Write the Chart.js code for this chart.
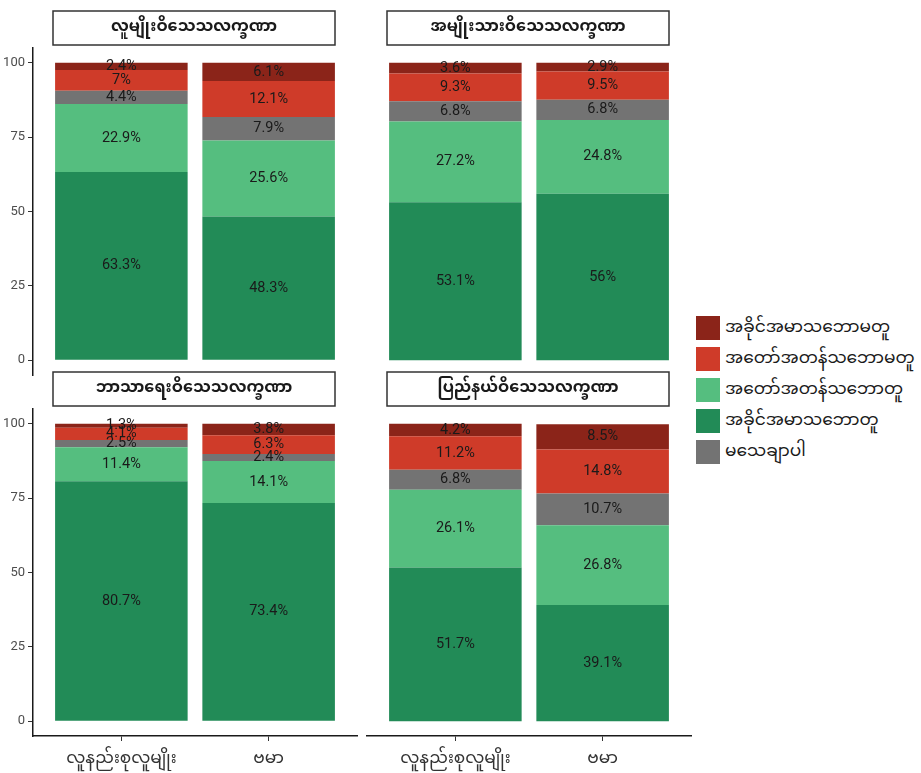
<!DOCTYPE html>
<html>
<head>
<meta charset="utf-8">
<script src="https://cdn.jsdelivr.net/npm/chart.js@4.4.1/dist/chart.umd.min.js"></script>
<style>
  body { margin: 0; background: #fff; }
  #wrap { position: relative; width: 921px; height: 773px; overflow: hidden; }
  canvas { position: absolute; }
  #legend { position: absolute; left: 696px; top: 312px; font-family: 'Noto Sans Myanmar', Padauk, 'Myanmar Text', 'Noto Sans', sans-serif; font-size: 17px; color: #1a1a1a; }
  .row { display: flex; align-items: center; height: 31px; }
  .sw { width: 24px; height: 24px; margin-right: 5px; flex: none; }
</style>
</head>
<body>
<div id="wrap">
  <canvas id="p0" width="360" height="395" style="left:0;top:0"></canvas>
  <canvas id="p1" width="335" height="395" style="left:360px;top:0"></canvas>
  <canvas id="p2" width="360" height="408" style="left:0;top:365px"></canvas>
  <canvas id="p3" width="335" height="408" style="left:360px;top:365px"></canvas>
  <div id="legend"></div>
</div>
<script>
// categories and facets
const categories = ['လူနည်းစုလူမျိုး', 'ဗမာ'];
const panelTitles = ['လူမျိုးဝိသေသလက္ခဏာ', 'အမျိုးသားဝိသေသလက္ခဏာ', 'ဘာသာရေးဝိသေသလက္ခဏာ', 'ပြည်နယ်ဝိသေသလက္ခဏာ'];

// stack order, bottom to top
const seriesNames = ['အခိုင်အမာသဘောတူ', 'အတော်အတန်သဘောတူ', 'မသေချာပါ', 'အတော်အတန်သဘောမတူ', 'အခိုင်အမာသဘောမတူ'];
const seriesColors = ['#228b57', '#55be7f', '#737373', '#cf3b29', '#8b2419'];
const legendOrder = [4, 3, 1, 0, 2];

// one row per series: [လူနည်းစုလူမျိုး, ဗမာ]
const ethnicValues = [[63.3, 48.3], [22.9, 25.6], [4.4, 7.9], [7, 12.1], [2.4, 6.1]];
const nationalValues = [[53.1, 56], [27.2, 24.8], [6.8, 6.8], [9.3, 9.5], [3.6, 2.9]];
const religionValues = [[80.7, 73.4], [11.4, 14.1], [2.5, 2.4], [4.1, 6.3], [1.3, 3.8]];
const stateValues = [[51.7, 39.1], [26.1, 26.8], [6.8, 10.7], [11.2, 14.8], [4.2, 8.5]];
const panelValues = [ethnicValues, nationalValues, religionValues, stateValues];

const yTicks = [0, 25, 50, 75, 100];

const MM_FONT = "'Noto Sans Myanmar', Padauk, 'Myanmar Text', 'Noto Sans', sans-serif";

// value labels in the middle of each segment
const labelPlugin = {
  id: 'segLabels',
  afterDatasetsDraw(chart) {
    const ctx = chart.ctx;
    ctx.save();
    ctx.font = '14.5px Roboto, sans-serif';
    ctx.fillStyle = '#1a1a1a';
    ctx.textAlign = 'center';
    ctx.textBaseline = 'middle';
    chart.data.datasets.forEach((ds, di) => {
      chart.getDatasetMeta(di).data.forEach((bar, i) => {
        const p = bar.getProps(['x', 'y', 'base'], true);
        ctx.fillText(ds.data[i].y + '%', p.x, (p.y + p.base) / 2);
      });
    });
    ctx.restore();
  },
};

// facet strip box above the panel
function stripPlugin(title) {
  return {
    id: 'strip',
    afterDraw(chart) {
      const a = chart.chartArea;
      const ctx = chart.ctx;
      const x = a.left + 20, w = a.right - 22 - x;
      const y = a.top - 37, h = 34;
      ctx.save();
      ctx.fillStyle = '#fff';
      ctx.fillRect(x, y, w, h);
      ctx.strokeStyle = '#333';
      ctx.lineWidth = 1.5;
      ctx.strokeRect(x, y, w, h);
      ctx.fillStyle = '#1a1a1a';
      ctx.font = 'bold 16px ' + MM_FONT;
      ctx.textAlign = 'center';
      ctx.textBaseline = 'middle';
      ctx.fillText(title, x + w / 2, y + h / 2 + 1);
      ctx.restore();
    },
  };
}

function renderPanel(idx) {
  const left = idx % 2 === 0;
  const bottom = idx >= 2;
  const values = panelValues[idx];

  new Chart(document.getElementById('p' + idx), {
    type: 'bar',
    data: {
      datasets: values.map((row, s) => ({
        label: seriesNames[s],
        data: row.map((v, i) => ({ x: i + 1, y: v })),
        backgroundColor: seriesColors[s],
        borderWidth: 0,
        categoryPercentage: 1,
        barPercentage: 0.9,
      })),
    },
    options: {
      responsive: false,
      animation: false,
      devicePixelRatio: 1,
      layout: {
        padding: { top: bottom ? 44 : 48, left: left ? 0 : 7, right: left ? 3 : 4, bottom: bottom ? 0 : 20 },
      },
      plugins: { legend: { display: false }, tooltip: { enabled: false } },
      scales: {
        x: {
          type: 'linear',
          stacked: true,
          offset: false,
          min: 0.4,
          max: 2.6,
          display: bottom,
          afterBuildTicks: s => { s.ticks = categories.map((c, i) => ({ value: i + 1 })); },
          afterFit: s => { if (bottom) s.height = 37; },
          grid: { display: true, offset: false, drawOnChartArea: false, drawTicks: true, tickLength: 5, color: '#333' },
          border: { display: true, color: '#1a1a1a', width: 1.5 },
          ticks: {
            autoSkip: false,
            maxRotation: 0,
            padding: 10,
            color: '#333',
            font: { family: MM_FONT, size: 17 },
            callback: v => categories[v - 1],
          },
        },
        y: {
          stacked: true,
          min: -5,
          max: 105,
          display: left,
          afterBuildTicks: s => { s.ticks = yTicks.map(v => ({ value: v })); },
          afterFit: s => { if (left) s.width = 33; },
          grid: { display: true, drawOnChartArea: false, drawTicks: true, tickLength: 5, color: '#333' },
          border: { display: true, color: '#1a1a1a', width: 1.5 },
          ticks: { padding: 3, color: '#4d4d4d', font: { family: 'Roboto, sans-serif', size: 13 } },
        },
      },
    },
    plugins: [labelPlugin, stripPlugin(panelTitles[idx])],
  });
}

function renderLegend() {
  const box = document.getElementById('legend');
  legendOrder.forEach(s => {
    const row = document.createElement('div');
    row.className = 'row';
    const sw = document.createElement('span');
    sw.className = 'sw';
    sw.style.background = seriesColors[s];
    const txt = document.createElement('span');
    txt.textContent = seriesNames[s];
    row.appendChild(sw);
    row.appendChild(txt);
    box.appendChild(row);
  });
}

[0, 1, 2, 3].forEach(renderPanel);
renderLegend();
</script>
</body>
</html>
